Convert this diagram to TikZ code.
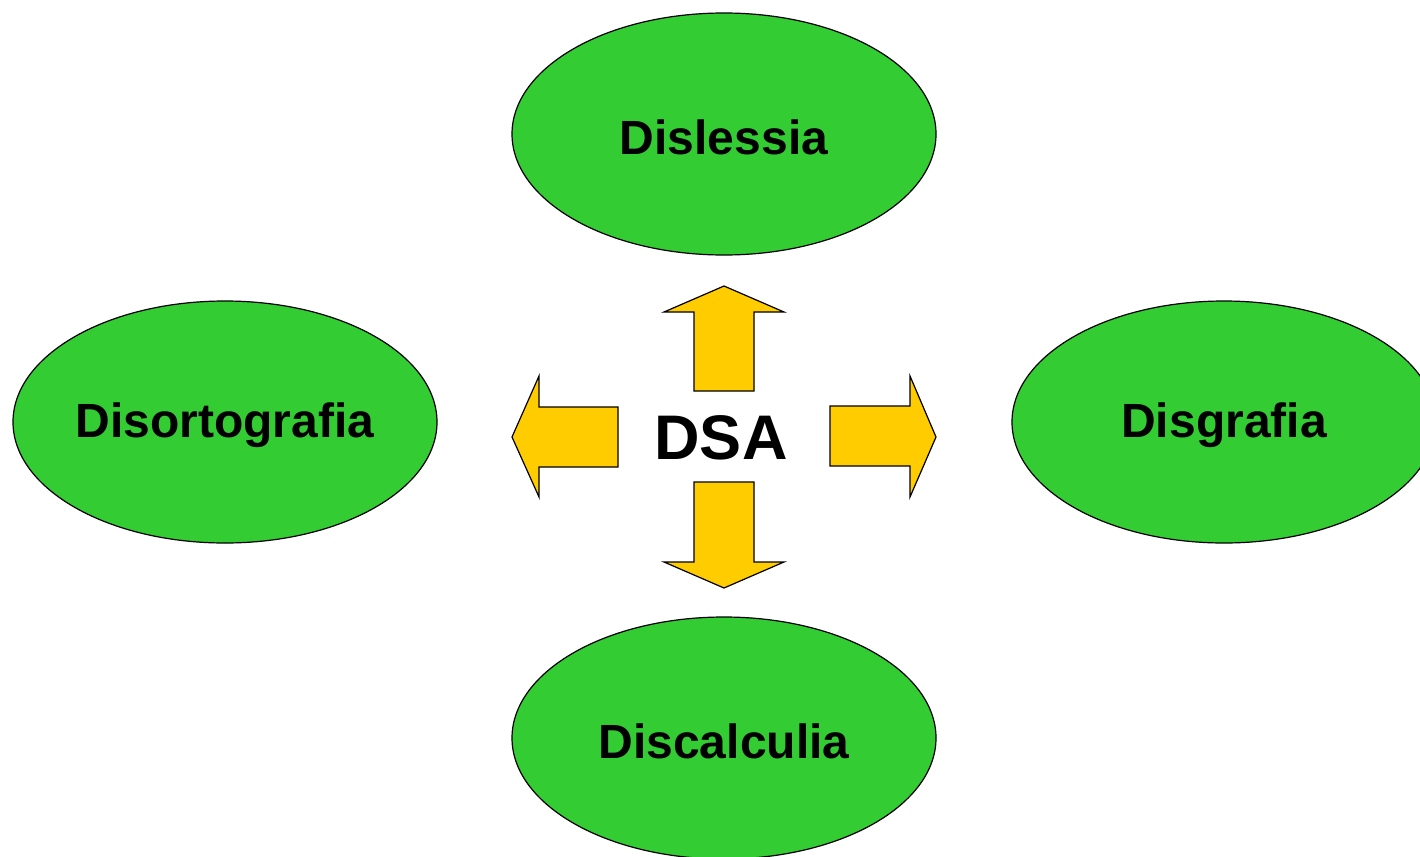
\documentclass[tikz,border=0pt]{standalone}
\usepackage{fontspec}
\setmainfont{Liberation Sans}
\usetikzlibrary{shapes.geometric}
\definecolor{dsagreen}{HTML}{33CC33}
\definecolor{dsayellow}{HTML}{FFCC00}
\begin{document}
\begin{tikzpicture}[x=1pt,y=-1pt,
  bubble/.style={ellipse, draw=black, line width=1.2pt, fill=dsagreen,
    minimum width=424pt, minimum height=242pt, inner sep=0pt},
  bubbletext/.style={font=\fontsize{48}{56}\selectfont\bfseries, yshift=-3pt},
  bigarrow/.style={draw=black, line width=1.2pt, fill=dsayellow, line join=miter}]
\useasboundingbox (0,0) rectangle (1420,856);
\clip (0,0) rectangle (1420,856);
\fill[white] (0,0) rectangle (1420,856);
\node[bubble] (dislessia) at (724,134) {};
\node[bubbletext] (dislessiatext) at (dislessia.center) {Dislessia};
\node[bubble] (disortografia) at (225,422) {};
\node[bubbletext] (disortografiatext) at (disortografia.center) {Disortografia};
\node[bubble] (disgrafia) at (1224,422) {};
\node[bubbletext] (disgrafiatext) at (disgrafia.center) {Disgrafia};
\node[bubble] (discalculia) at (724,738) {};
\node[bubbletext] (discalculiatext) at (discalculia.center) {Discalculia};
\node[font=\fontsize{63}{72}\selectfont\bfseries] (dsa) at (721,438) {DSA};
% up
\draw[bigarrow] (694,391) -- (694,312) -- (664,312) -- (724,286) -- (784,312) -- (754,312) -- (754,391) -- cycle;
% down
\draw[bigarrow] (694,482) -- (694,562) -- (664,562) -- (724,588) -- (784,562) -- (754,562) -- (754,482) -- cycle;
% left
\draw[bigarrow] (618,407) -- (539,407) -- (539,376) -- (512,437) -- (539,497) -- (539,467) -- (618,467) -- cycle;
% right
\draw[bigarrow] (830,406) -- (910,406) -- (910,376) -- (936,437) -- (910,497) -- (910,466) -- (830,466) -- cycle;
\end{tikzpicture}
\end{document}
